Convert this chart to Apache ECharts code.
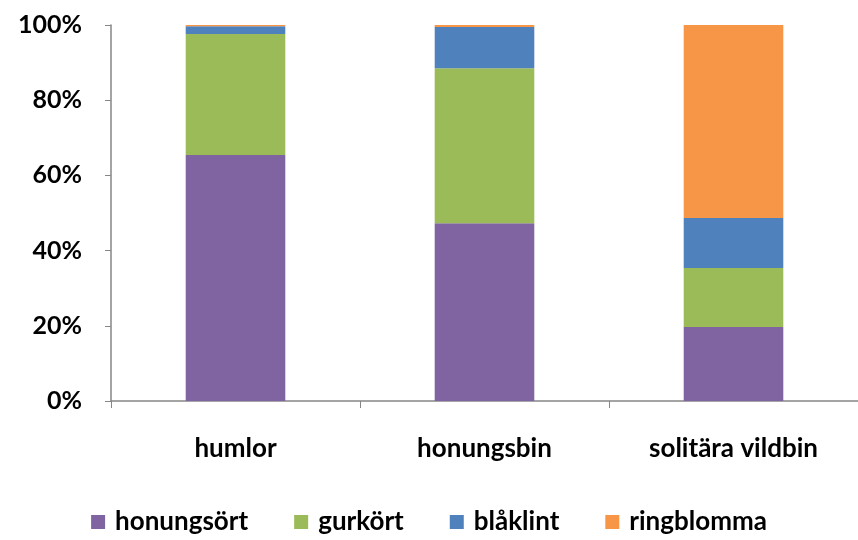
<!DOCTYPE html>
<html>
<head>
<meta charset="utf-8">
<script src="https://cdn.jsdelivr.net/npm/echarts@6/dist/echarts.min.js"></script>
<style>
html, body { margin: 0; padding: 0; background: #fff; }
#chart { width: 858px; height: 540px; }
</style>
</head>
<body>
<div id="chart"></div>
<script>
// kategorier och andelar (%)
var categories = ['humlor', 'honungsbin', 'solitära vildbin'];
var honungsort = [65.4, 47.3, 19.7];
var gurkort = [32.2, 41.2, 15.7];
var blaklint = [2.1, 11.0, 13.3];
var ringblomma = [0.3, 0.5, 51.3];

var FONT = 'Lato';
var chart = echarts.init(document.getElementById('chart'));

function bar(name, data, color) {
    return {
        name: name,
        type: 'bar',
        stack: 'total',
        barWidth: '40%',
        data: data,
        itemStyle: { color: color }
    };
}

chart.setOption({
    animation: false,
    textStyle: { fontFamily: FONT },
    grid: { left: 111, right: 0, top: 25, bottom: 139 },
    legend: {
        bottom: 0,
        left: 'center',
        itemWidth: 14,
        itemHeight: 14,
        itemGap: 46,
        icon: 'rect',
        textStyle: { fontSize: 26, fontWeight: 'bold', color: '#000', fontFamily: FONT, padding: [0, 0, 0, 5] },
        data: ['honungsört', 'gurkört', 'blåklint', 'ringblomma']
    },
    xAxis: {
        type: 'category',
        data: categories,
        axisLine: { lineStyle: { color: '#868686', width: 1.5 } },
        axisTick: { show: true, length: 7, lineStyle: { color: '#868686' } },
        axisLabel: { fontSize: 26, fontWeight: 'bold', color: '#000', margin: 35, fontFamily: FONT }
    },
    yAxis: {
        type: 'value',
        min: 0,
        max: 100,
        interval: 20,
        axisLine: { show: true, lineStyle: { color: '#868686', width: 1.5 } },
        axisTick: { show: true, length: 6, lineStyle: { color: '#868686' } },
        splitLine: { show: false },
        axisLabel: { fontSize: 25, fontWeight: 'bold', color: '#000', margin: 29, formatter: '{value}%', fontFamily: FONT }
    },
    series: [
        bar('honungsört', honungsort, '#8064A2'),
        bar('gurkört', gurkort, '#9BBB59'),
        bar('blåklint', blaklint, '#4F81BD'),
        bar('ringblomma', ringblomma, '#F79646')
    ]
});
</script>
</body>
</html>
